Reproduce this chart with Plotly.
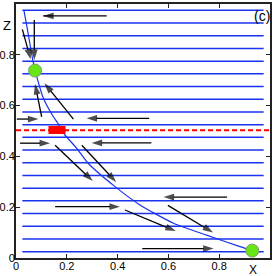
import plotly.graph_objects as go

# horizontal field lines (z levels) and their x extent
level_z = [0.025 + 0.05 * i for i in range(20)]
level_x = [0.025, 0.975]

# blue separatrix curve
curve_x = [0.031, 0.045, 0.066, 0.075, 0.108, 0.143, 0.167, 0.19, 0.239, 0.285, 0.39, 0.488, 0.62, 0.75, 0.882, 0.93]
curve_z = [0.976, 0.90, 0.78, 0.74, 0.629, 0.563, 0.527, 0.488, 0.432, 0.372, 0.281, 0.209, 0.137, 0.09, 0.045, 0.03]

# red dashed line level and red block
red_z = 0.503
red_x = [0.0, 1.0]
block_x = [0.128, 0.195]
block_z = 0.504

# green fixed points
pts_x = [0.075, 0.93]
pts_z = [0.738, 0.029]

# arrows: tail -> head
tail_x = [0.357, 0.025, 0.072, 0.101, 0.226, 0.003, 0.524, 0.016, 0.533, 0.154, 0.259, 0.154, 0.429, 0.831, 0.598, 0.497]
tail_z = [0.953, 0.900, 0.937, 0.556, 0.547, 0.547, 0.550, 0.452, 0.453, 0.444, 0.444, 0.202, 0.189, 0.240, 0.207, 0.037]
head_x = [0.107, 0.058, 0.072, 0.075, 0.112, 0.088, 0.278, 0.134, 0.298, 0.302, 0.394, 0.409, 0.629, 0.581, 0.776, 0.778]
head_z = [0.953, 0.782, 0.780, 0.685, 0.688, 0.547, 0.550, 0.452, 0.453, 0.303, 0.299, 0.202, 0.106, 0.240, 0.100, 0.037]

tick_vals = [0, 0.2, 0.4, 0.6, 0.8, 1]
tick_text = ["0", "0.2", "0.4", "0.6", "0.8", "1"]

BLUE = "rgb(25,50,240)"
fig = go.Figure()

for z in level_z:
    fig.add_trace(go.Scatter(x=level_x, y=[z, z], mode="lines",
                             line=dict(color=BLUE, width=1.5), hoverinfo="skip"))

fig.add_trace(go.Scatter(x=curve_x, y=curve_z, mode="lines",
                         line=dict(color=BLUE, width=1.2, shape="spline", smoothing=0.6)))

fig.add_trace(go.Scatter(x=red_x, y=[red_z, red_z], mode="lines",
                         line=dict(color="red", width=2, dash="5px,3px")))
fig.add_trace(go.Scatter(x=block_x, y=[block_z, block_z], mode="lines",
                         line=dict(color="red", width=8)))

for tx, tz, hx, hz in zip(tail_x, tail_z, head_x, head_z):
    fig.add_trace(go.Scatter(
        x=[tx, hx], y=[tz, hz], mode="lines+markers",
        line=dict(color="black", width=1.3),
        marker=dict(symbol="arrow", size=[0, 11], angleref="previous",
                    color="black", line=dict(width=0))))

fig.add_trace(go.Scatter(x=pts_x, y=pts_z, mode="markers",
                         marker=dict(size=13, color="rgb(102,230,20)",
                                     line=dict(color="rgb(130,150,120)", width=1))))

axis_common = dict(range=[0, 1], tickvals=tick_vals, ticktext=tick_text,
                   ticks="inside", ticklen=4, tickcolor="#222", tickwidth=1,
                   showline=True, linecolor="#222", linewidth=2, mirror="ticks",
                   showgrid=False, zeroline=False, automargin=False,
                   tickfont=dict(family="Liberation Sans, Arial", size=11, color="black"))

fig.update_layout(
    width=273, height=276,
    margin=dict(l=16, r=3, t=4, b=18),
    paper_bgcolor="white", plot_bgcolor="white",
    showlegend=False,
    xaxis=dict(**axis_common, ticklabelstandoff=-3),
    yaxis=dict(**axis_common, ticklabelstandoff=-3),
    annotations=[
        dict(text="X", xref="paper", yref="paper", x=0.933, y=0, yshift=-12,
             showarrow=False, xanchor="center", yanchor="middle",
             font=dict(family="Liberation Sans, Arial", size=12, color="black")),
        dict(text="Z", xref="paper", yref="paper", x=0, y=0.917, xshift=-9,
             showarrow=False, xanchor="center", yanchor="middle",
             font=dict(family="Liberation Sans, Arial", size=13, color="black")),
        dict(text="(c)", xref="paper", yref="paper", x=0.970, y=0.953,
             showarrow=False, xanchor="center", yanchor="middle",
             font=dict(family="Liberation Sans, Arial", size=14, color="black")),
    ],
)

fig.write_html("out.html", config={"displayModeBar": False},
               post_script="document.body.style.margin='0';document.body.style.overflow='hidden';")
